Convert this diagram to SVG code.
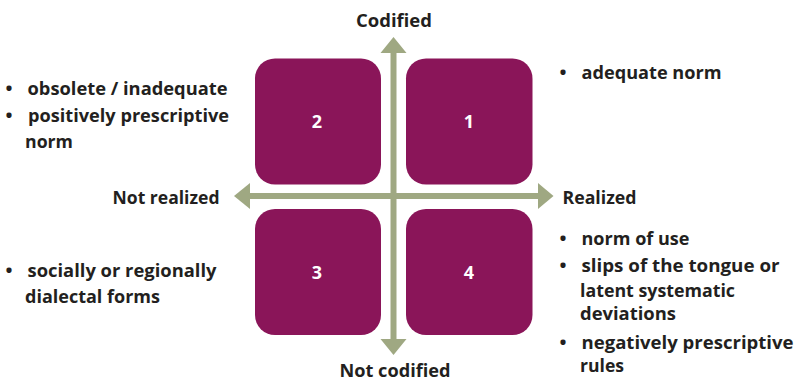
<svg xmlns="http://www.w3.org/2000/svg" width="795" height="382" viewBox="0 0 795 382">
  <style>
    .box { fill: #8a1559; }
    .num { font-family: "Open Sans", "Liberation Sans", sans-serif; font-weight: 700; font-size: 18px; fill: #ffffff; text-anchor: middle; }
    .lbl { font-family: "Open Sans", "Liberation Sans", sans-serif; font-weight: 700; font-size: 18.5px; fill: #231f20; }
    .axis { fill: #9fa882; }
  </style>

  <!-- axes -->
  <g id="connectors">
    <rect class="axis" x="390.5" y="52" width="6" height="288"/>
    <rect class="axis" x="249" y="193" width="290" height="6"/>
    <polygon class="axis" points="393.5,37 380.5,53 406.5,53"/>
    <polygon class="axis" points="393.5,355 380.5,339 406.5,339"/>
    <polygon class="axis" points="234,196 250,183 250,209"/>
    <polygon class="axis" points="553.5,196 538,183 538,209"/>
  </g>

  <!-- quadrants -->
  <g id="q1">
    <rect class="box" x="406" y="58.5" width="126.5" height="126" rx="20"/>
    <text class="num" x="469" y="128">1</text>
  </g>
  <g id="q2">
    <rect class="box" x="255" y="58.5" width="126" height="126" rx="20"/>
    <text class="num" x="317" y="128">2</text>
  </g>
  <g id="q3">
    <rect class="box" x="255" y="209" width="126" height="126" rx="20"/>
    <text class="num" x="317" y="278.5">3</text>
  </g>
  <g id="q4">
    <rect class="box" x="406" y="209" width="126.5" height="126" rx="20"/>
    <text class="num" x="469" y="278.5">4</text>
  </g>

  <!-- axis labels -->
  <g id="axis-labels">
    <text class="lbl" x="356" y="26.5" textLength="76" lengthAdjust="spacingAndGlyphs">Codified</text>
    <text class="lbl" x="339.5" y="376.5" textLength="111" lengthAdjust="spacingAndGlyphs">Not codified</text>
    <text class="lbl" x="112.5" y="204" textLength="107" lengthAdjust="spacingAndGlyphs">Not realized</text>
    <text class="lbl" x="562.5" y="204" textLength="74" lengthAdjust="spacingAndGlyphs">Realized</text>
  </g>

  <!-- notes: upper left -->
  <g id="notes-2">
    <text class="lbl" x="5.5" y="95">•</text>
    <text class="lbl" x="27.5" y="95" textLength="200" lengthAdjust="spacingAndGlyphs">obsolete / inadequate</text>
    <text class="lbl" x="5.5" y="121.5">•</text>
    <text class="lbl" x="28" y="121.5" textLength="201" lengthAdjust="spacingAndGlyphs">positively prescriptive</text>
    <text class="lbl" x="25" y="147.5" textLength="48" lengthAdjust="spacingAndGlyphs">norm</text>
  </g>

  <!-- notes: upper right -->
  <g id="notes-1">
    <text class="lbl" x="559.5" y="78.5">•</text>
    <text class="lbl" x="581.5" y="78.5" textLength="140" lengthAdjust="spacingAndGlyphs">adequate norm</text>
  </g>

  <!-- notes: lower left -->
  <g id="notes-3">
    <text class="lbl" x="5.5" y="276.5">•</text>
    <text class="lbl" x="27.5" y="276.5" textLength="189" lengthAdjust="spacingAndGlyphs">socially or regionally</text>
    <text class="lbl" x="25" y="303" textLength="135" lengthAdjust="spacingAndGlyphs">dialectal forms</text>
  </g>

  <!-- notes: lower right -->
  <g id="notes-4">
    <text class="lbl" x="559.5" y="245">•</text>
    <text class="lbl" x="581.5" y="245" textLength="108" lengthAdjust="spacingAndGlyphs">norm of use</text>
    <text class="lbl" x="559.5" y="271.5">•</text>
    <text class="lbl" x="581.5" y="271.5" textLength="198" lengthAdjust="spacingAndGlyphs">slips of the tongue or</text>
    <text class="lbl" x="580" y="296.5" textLength="155" lengthAdjust="spacingAndGlyphs">latent systematic</text>
    <text class="lbl" x="580" y="320" textLength="96" lengthAdjust="spacingAndGlyphs">deviations</text>
    <text class="lbl" x="559.5" y="348.5">•</text>
    <text class="lbl" x="581.5" y="348.5" textLength="212" lengthAdjust="spacingAndGlyphs">negatively prescriptive</text>
    <text class="lbl" x="580" y="372" textLength="44" lengthAdjust="spacingAndGlyphs">rules</text>
  </g>
</svg>
